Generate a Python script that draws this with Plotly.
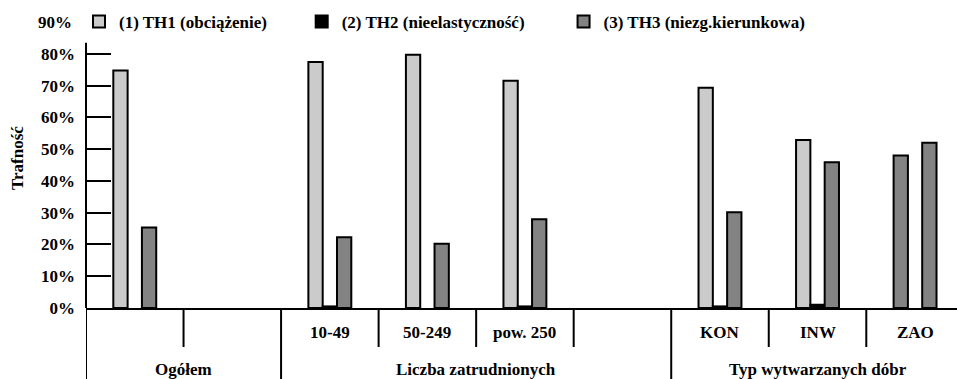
import plotly.graph_objects as go

sub_labels = ["", "", "10-49", "50-249", "pow. 250", "", "KON", "INW", "ZAO"]
group_labels = ["Ogółem", "Liczba zatrudnionych", "Typ wytwarzanych dóbr"]
group_spans = [(0, 1), (2, 5), (6, 8)]
series_names = ["(1) TH1 (obciążenie)", "(2) TH2 (nieelastyczność)", "(3) TH3 (niezg.kierunkowa)"]
th1 = [74.7, None, 77.4, 79.7, 71.5, None, 69.3, 52.9, 48.0]
th2 = [None, None, 0.5, None, 0.5, None, 0.5, 1.0, None]
th3 = [25.3, None, 22.3, 20.2, 27.9, None, 30.1, 45.9, 52.0]
y_ticks = [0, 10, 20, 30, 40, 50, 60, 70, 80, 90]

LIGHT = "#cbcbcb"
BLACK = "#000000"
DARK = "#838383"
th1_colors = [LIGHT] * 8 + [DARK]

FONT = "Liberation Serif, Times New Roman, serif"
FS = 17
W, H = 957, 379
ML, MR, MT, MB = 86, 0, 22, 71
PW, PH = W - ML - MR, H - MT - MB

def b(t):
    return f"<b>{t}</b>"

NB = "\u00a0"
legend_pad = [7, 8, 0]

x = list(range(len(sub_labels)))
fig = go.Figure()
for name, vals, col, pad in [(series_names[0], th1, th1_colors, legend_pad[0]),
                             (series_names[1], th2, BLACK, legend_pad[1]),
                             (series_names[2], th3, DARK, legend_pad[2])]:
    fig.add_trace(go.Bar(x=x, y=vals, name=b(name) + NB * pad,
                         marker=dict(color=col, line=dict(color="black", width=2))))

def ppx(px):
    return px / PH

shapes = []
shapes.append(dict(type="line", xref="paper", yref="y", x0=0, x1=0, y0=0, y1=83.5,
                   line=dict(color="black", width=2)))
full = [-0.5, 1.5, 5.5]
short = [0.5, 2.5, 3.5, 4.5, 6.5, 7.5]
for bb in full:
    shapes.append(dict(type="line", xref="x", yref="paper", x0=bb, x1=bb, y0=0, y1=-ppx(71),
                       line=dict(color="black", width=2)))
for bb in short:
    shapes.append(dict(type="line", xref="x", yref="paper", x0=bb, x1=bb, y0=0, y1=-ppx(39),
                       line=dict(color="black", width=2)))

tf = dict(family=FONT, size=FS, color="black")
annotations = []
for i, lab in enumerate(sub_labels):
    if lab:
        annotations.append(dict(x=i, y=-ppx(24), xref="x", yref="paper", text=b(lab), showarrow=False,
                                xanchor="center", yanchor="middle", font=tf))
for lab, (a, c) in zip(group_labels, group_spans):
    annotations.append(dict(x=(a + c) / 2, y=-ppx(61), xref="x", yref="paper", text=b(lab), showarrow=False,
                            xanchor="center", yanchor="middle", font=tf))
annotations.append(dict(x=-12 / PW, y=y_ticks[-1], xref="paper", yref="y", text=b(f"{y_ticks[-1]}%"),
                        showarrow=False, xanchor="right", yanchor="middle", font=tf))
annotations.append(dict(x=-69 / PW, y=ppx(308 - 158), xref="paper", yref="paper", text=b("Trafność"),
                        showarrow=False, textangle=-90, xanchor="center", yanchor="middle", font=tf))

fig.update_layout(
    width=W, height=H,
    margin=dict(l=ML, r=MR, t=MT, b=MB, autoexpand=False),
    paper_bgcolor="white", plot_bgcolor="white",
    font=tf,
    barmode="group", bargap=0.56, bargroupgap=0,
    showlegend=True,
    legend=dict(orientation="h", xref="container", x=79 / W, xanchor="left",
                yref="container", y=1 - 22 / H, yanchor="middle",
                bgcolor="rgba(0,0,0,0)", font=tf, itemwidth=30, tracegroupgap=0),
    xaxis=dict(range=[-0.5, 8.43], showticklabels=False, ticks="", showgrid=False, zeroline=False,
               showline=True, linecolor="black", linewidth=2, fixedrange=True),
    yaxis=dict(range=[0, 90], tickvals=y_ticks[:-1], ticktext=[b(f"{v}%") for v in y_ticks[:-1]],
               ticks="inside", ticklen=25, tickwidth=2, tickcolor="black",
               showgrid=False, zeroline=False, showline=False, ticklabelstandoff=10,
               tickfont=tf),
    shapes=shapes, annotations=annotations,
)
fig.write_html("out.html")
